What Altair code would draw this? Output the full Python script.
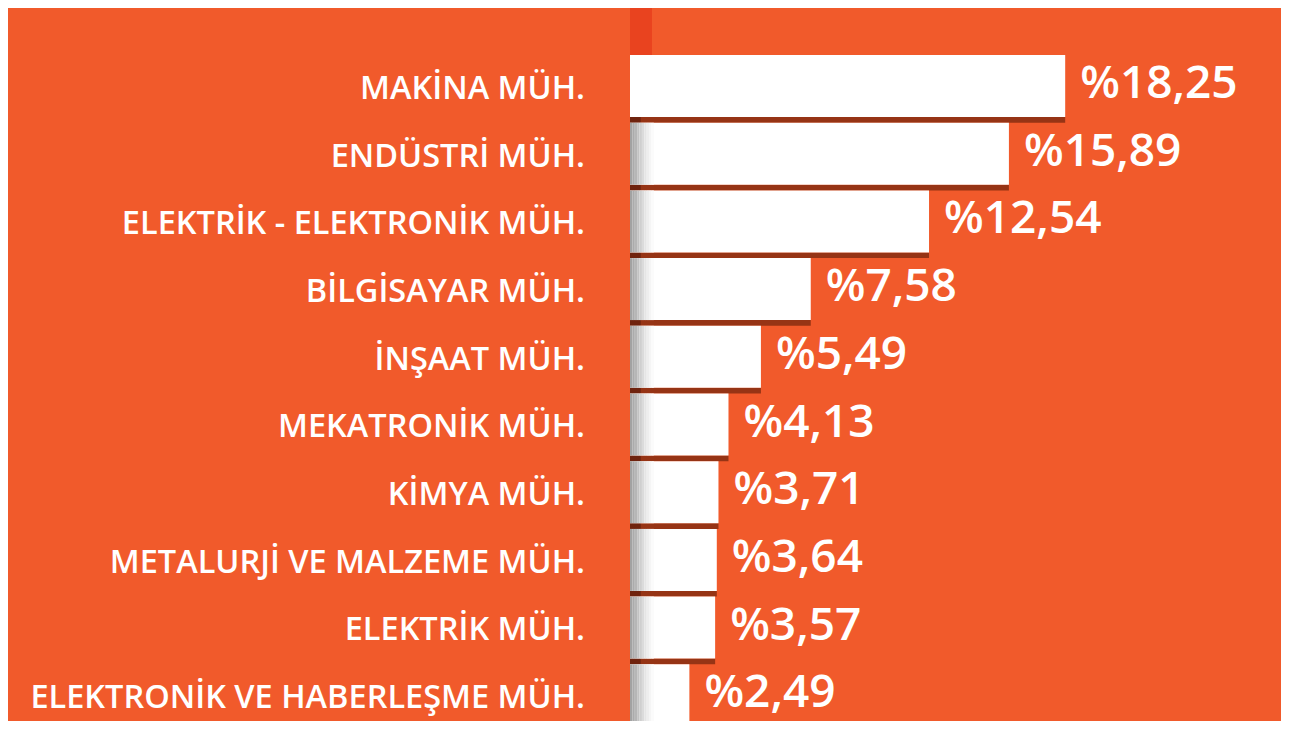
import altair as alt
import pandas as pd

categories = [
    "MAKİNA MÜH.",
    "ENDÜSTRİ MÜH.",
    "ELEKTRİK - ELEKTRONİK MÜH.",
    "BİLGİSAYAR MÜH.",
    "İNŞAAT MÜH.",
    "MEKATRONİK MÜH.",
    "KİMYA MÜH.",
    "METALURJİ VE MALZEME MÜH.",
    "ELEKTRİK MÜH.",
    "ELEKTRONİK VE HABERLEŞME MÜH.",
]
values = [18.25, 15.89, 12.54, 7.58, 5.49, 4.13, 3.71, 3.64, 3.57, 2.49]
value_labels = ["%18,25", "%15,89", "%12,54", "%7,58", "%5,49",
                "%4,13", "%3,71", "%3,64", "%3,57", "%2,49"]

# decorative tab above the first bar
tab_x = [0, 0.92]
tab_y = [-0.77, 0]

# fold shading strips on the left of bars (start, end in value units, colour)
strip_x0 = [0.0, 0.1, 0.2, 0.3, 0.4, 0.5, 0.6, 0.7, 0.8, 0.9]
strip_x1 = [0.1, 0.2, 0.3, 0.4, 0.5, 0.6, 0.7, 0.8, 0.9, 1.0]
strip_col = ["#A2A2A2", "#ABABAB", "#B6B6B6", "#C3C3C3", "#CFCFCF",
             "#DBDBDB", "#E5E5E5", "#EEEEEE", "#F5F5F5", "#FBFBFB"]

df = pd.DataFrame({"cat": categories, "value": values, "label": value_labels})
df["rank"] = list(range(len(df)))
df["zero"] = 0.0

strips = []
for r in range(1, len(categories)):
    for a, b, c in zip(strip_x0, strip_x1, strip_col):
        strips.append({"rank": r, "x0": a, "x1": b, "col": c})
sdf = pd.DataFrame(strips)

BG = "#F15A2B"
FONT = "Open Sans"
BAR_FRAC = 62 / 67.7

x_scale = alt.Scale(domain=[0, 27.3], nice=False, zero=True)
y_scale = alt.Scale(domain=[0, 666 / 67.7], nice=False, zero=False, reverse=True)

calc = dict(
    top="datum.rank",
    bot="datum.rank + %f" % BAR_FRAC,
    sbot="datum.rank + 1.0",
    mid="datum.rank + 0.5",
    bmid="datum.rank + %f" % (BAR_FRAC / 2),
)
base = alt.Chart(df).transform_calculate(**calc)

X0 = alt.X("zero:Q", scale=x_scale, axis=None)

shadow = base.mark_bar(color="#963415").encode(
    x=X0, x2="value:Q", y=alt.Y("bot:Q", scale=y_scale, axis=None), y2="sbot:Q"
)
shadow_dark = base.transform_calculate(sx="0.45").mark_bar(color="#6F230E").encode(
    x=X0, x2="sx:Q", y=alt.Y("bot:Q", scale=y_scale, axis=None), y2="sbot:Q"
)

bars = base.mark_bar(color="white").encode(
    x=X0, x2="value:Q", y=alt.Y("top:Q", scale=y_scale, axis=None), y2="bot:Q"
)

fold = alt.Chart(sdf).transform_calculate(**calc).mark_bar().encode(
    x=alt.X("x0:Q", scale=x_scale, axis=None), x2="x1:Q",
    y=alt.Y("top:Q", scale=y_scale, axis=None), y2="bot:Q",
    color=alt.Color("col:N", scale=None, legend=None),
)

tab = alt.Chart(pd.DataFrame({"x0": [tab_x[0]], "x1": [tab_x[1]],
                              "y0": [tab_y[0]], "y1": [tab_y[1]]})).mark_rect(
    color="#E9431F"
).encode(
    x=alt.X("x0:Q", scale=x_scale, axis=None), x2="x1:Q",
    y=alt.Y("y0:Q", scale=y_scale, axis=None), y2="y1:Q",
)

cat_text = base.mark_text(align="right", baseline="middle", font=FONT, fontSize=32.5,
                          fontWeight=600, color="white").encode(
    x=alt.value(-45), y=alt.Y("mid:Q", scale=y_scale, axis=None), text="cat:N"
)

val_text = base.mark_text(align="left", baseline="middle", dx=15, dy=-2,
                          font=FONT, fontSize=46, fontWeight=600, color="white").encode(
    x=alt.X("value:Q", scale=x_scale, axis=None),
    y=alt.Y("bmid:Q", scale=y_scale, axis=None), text="label:N"
)

chart = alt.layer(tab, shadow, shadow_dark, bars, fold, cat_text, val_text).properties(
    width=651, height=666,
    padding={"left": 622, "top": 47, "right": 0, "bottom": 0},
    autosize=alt.AutoSizeParams(type="none"),
).configure(background=BG).configure_view(stroke=None)

chart.save("out.html", embed_options={"renderer": "svg", "actions": False})
